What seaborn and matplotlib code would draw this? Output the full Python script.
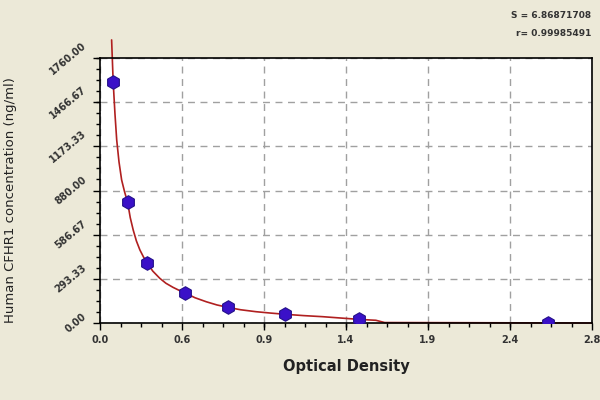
import matplotlib
matplotlib.use("Agg")
import matplotlib.pyplot as plt
import seaborn as sns
import pandas as pd
from matplotlib.ticker import AutoMinorLocator

# standard points
od = [0.075, 0.157, 0.270, 0.482, 0.727, 1.052, 1.474, 2.55]
conc = [1598, 802, 396, 201, 104, 58, 24, 0]

# fitted curve
curve_od = [0.066, 0.075, 0.085, 0.095, 0.108, 0.123, 0.140, 0.157, 0.172, 0.189,
            0.207, 0.227, 0.248, 0.270, 0.300, 0.340, 0.375, 0.415, 0.450, 0.482,
            0.540, 0.605, 0.665, 0.727, 0.800, 0.888, 0.970, 1.052, 1.160, 1.266,
            1.370, 1.474, 1.57, 1.62, 2.05, 2.8]
curve_conc = [1880, 1598, 1390, 1215, 1070, 950, 870, 802, 700, 617,
              545, 485, 437, 396, 345, 297, 264, 237, 217, 201,
              168, 141, 120, 104, 88, 75, 66, 58, 49, 42,
              33, 24, 18, 3, 2, 0]

x_ticks = [0.0, 0.4667, 0.9333, 1.4, 1.8667, 2.3333, 2.8]
x_labels = ["0.0", "0.6", "0.9", "1.4", "1.9", "2.4", "2.8"]
y_ticks = [0, 293.33, 586.67, 880, 1173.33, 1466.67, 1760]
y_labels = ["0.00", "293.33", "586.67", "880.00", "1173.33", "1466.67", "1760.00"]

pts = pd.DataFrame({"od": od, "conc": conc})
fit = pd.DataFrame({"od": curve_od, "conc": curve_conc})

sns.set_style("ticks")
bg = "#ECE9D8"
fig = plt.figure(figsize=(6, 4), dpi=100, facecolor=bg)
ax = fig.add_axes([0.1667, 0.1925, 0.82, 0.6625])
ax.set_facecolor("white")

sns.lineplot(data=fit, x="od", y="conc", sort=False, color="#B02020",
             linewidth=1.2, ax=ax)
for l in ax.get_lines():
    l.set_clip_on(False)
sns.scatterplot(data=pts, x="od", y="conc", marker="h", s=95, color="#3A10C8",
                edgecolor="#24108A", linewidth=0.8, zorder=5, ax=ax)

ax.set_xlim(0, 2.8)
ax.set_ylim(0, 1760)
ax.set_xticks(x_ticks)
ax.set_xticklabels(x_labels, fontsize=7, fontweight="bold", color="#333333")
ax.set_yticks(y_ticks)
ax.set_yticklabels(y_labels, fontsize=7, fontweight="bold", color="#333333",
                   rotation=40, va="center", ha="right")
ax.xaxis.set_minor_locator(AutoMinorLocator(4))
ax.yaxis.set_minor_locator(AutoMinorLocator(4))
ax.tick_params(which="major", length=5, width=1, color="black", direction="out")
ax.tick_params(which="minor", length=3, width=1, color="black", direction="out")
ax.grid(True, which="major", linestyle=(0, (5, 4)), color="#A0A0A0", linewidth=1)
for s in ax.spines.values():
    s.set_color("black")
    s.set_linewidth(1.2)

ax.set_xlabel("Optical Density", fontsize=10.5, fontweight="bold", color="#222222",
              labelpad=10)
ax.set_ylabel("")
fig.text(0.018, 0.5, "Human CFHR1 concentration (ng/ml)", rotation=90,
         fontsize=9.5, va="center", ha="center", color="#222222")

fig.text(0.985, 0.96, "S = 6.86871708", fontsize=6.5, fontweight="bold",
         ha="right", va="center", color="#333333")
fig.text(0.985, 0.915, "r= 0.99985491", fontsize=6.5, fontweight="bold",
         ha="right", va="center", color="#333333")

fig.savefig("out.png", dpi=100, facecolor=bg)
